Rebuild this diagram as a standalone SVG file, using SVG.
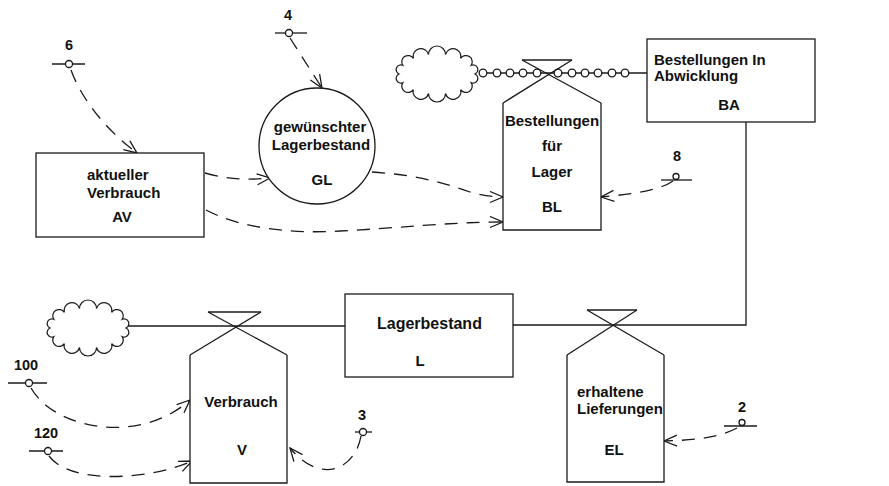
<svg xmlns="http://www.w3.org/2000/svg" width="889" height="486" viewBox="0 0 889 486">
<style>
.ln{fill:none;stroke:#1a1a1a;stroke-width:1.3}
.box{fill:#fff;stroke:#1a1a1a;stroke-width:1.3}
.dash{fill:none;stroke:#1a1a1a;stroke-width:1.3;stroke-dasharray:13 9}
.pt{fill:#fff;stroke:#1a1a1a;stroke-width:1.3}
.cl{fill:#fff;stroke:#1a1a1a;stroke-width:1.2}
text{font-family:"Liberation Sans",Arial,Helvetica,sans-serif;font-weight:bold;font-size:15px;fill:#111}
.c{text-anchor:middle}
.num{font-size:14.5px}
.big{font-size:16px}
</style>
<defs>
<marker id="arr" markerUnits="userSpaceOnUse" markerWidth="15" markerHeight="13" viewBox="0 0 15 13" refX="14" refY="6.5" orient="auto">
<path d="M1,1 L14,6.5 L1,12" fill="none" stroke="#1a1a1a" stroke-width="1.3"/>
</marker>
<path id="cloud" d="M50,328 A1,1 0 0 1 53.8,319.3 A1,1 0 0 1 64.3,312.4 A1,1 0 0 1 79.5,308.5 A1,1 0 0 1 96.5,308.5 A1,1 0 0 1 111.7,312.4 A1,1 0 0 1 122.2,319.3 A1,1 0 0 1 126,328 A1,1 0 0 1 122.2,336.7 A1,1 0 0 1 111.7,343.6 A1,1 0 0 1 96.5,347.5 A1,1 0 0 1 79.5,347.5 A1,1 0 0 1 64.3,343.6 A1,1 0 0 1 53.8,336.7 A1,1 0 0 1 50,328 Z"/>
</defs>
<rect width="889" height="486" fill="#fff"/>

<g id="connectors">
<!-- material flows -->
<line class="ln" x1="479" y1="73" x2="647" y2="73"/>
<g class="pt">
<circle cx="483" cy="73" r="3.8"/><circle cx="497" cy="73" r="3.8"/><circle cx="510" cy="73" r="3.8"/><circle cx="523" cy="73" r="3.8"/><circle cx="537" cy="73" r="3.8"/>
<circle cx="558" cy="73" r="3.8"/><circle cx="572" cy="73" r="3.8"/><circle cx="585" cy="73" r="3.8"/><circle cx="598" cy="73" r="3.8"/><circle cx="612" cy="73" r="3.8"/><circle cx="625" cy="73" r="3.8"/>
</g>
<polyline class="ln" points="746,122 746,325 513,325"/>
<line class="ln" x1="126" y1="326" x2="345" y2="326"/>
<!-- information flows -->
<path class="dash" d="M71,70 C80,95 102,127 137,153" marker-end="url(#arr)"/>
<path class="dash" d="M290,38 L322,88" marker-end="url(#arr)"/>
<path class="dash" d="M205,173 C230,180 250,180 270,178" marker-end="url(#arr)"/>
<path class="dash" d="M206,210 C240,228 290,234 340,231 C400,228 450,222 503,222" marker-end="url(#arr)"/>
<path class="dash" d="M372,172 C420,175 450,185 470,192 C485,196 495,197 503,197" marker-end="url(#arr)"/>
<path class="dash" d="M673,181 C660,190 635,194 601,197" marker-end="url(#arr)"/>
<path class="dash" d="M737,428 C720,437 700,440 664,441" marker-end="url(#arr)"/>
<path class="dash" d="M31,388 C55,430 140,445 190,400" marker-end="url(#arr)"/>
<path class="dash" d="M49,456 C70,485 150,480 192,461" marker-end="url(#arr)"/>
<path class="dash" d="M361,436 C355,470 320,485 290,448" marker-end="url(#arr)"/>
</g>

<g id="cloud-top"><use href="#cloud" class="cl" transform="translate(349,-254)"/></g>
<g id="cloud-bottom"><use href="#cloud" class="cl"/></g>

<g id="AV">
<rect class="box" x="36" y="153" width="168" height="84"/>
<text x="87" y="180">aktueller</text>
<text x="87" y="198">Verbrauch</text>
<text class="c" x="122" y="222">AV</text>
</g>

<g id="GL">
<circle class="box" cx="317" cy="146" r="58"/>
<text class="c" x="320" y="132">gewünschter</text>
<text class="c" x="321" y="150">Lagerbestand</text>
<text class="c" x="322" y="185">GL</text>
</g>

<g id="BL">
<polyline class="box" points="503,103 503,230 601,230 601,103"/>
<polyline class="ln" points="522,60 572,60"/>
<line class="ln" x1="522" y1="60" x2="601" y2="103"/>
<line class="ln" x1="572" y1="60" x2="503" y2="103"/>
<text class="c" x="552" y="126">Bestellungen</text>
<text class="c" x="552" y="151">für</text>
<text class="c" x="552" y="177">Lager</text>
<text class="c" x="552" y="212">BL</text>
</g>

<g id="BA">
<rect class="box" x="647" y="39" width="168" height="83"/>
<text x="654" y="65">Bestellungen In</text>
<text x="654" y="81">Abwicklung</text>
<text class="c" x="729" y="110">BA</text>
</g>

<g id="L">
<rect class="box" x="345" y="294" width="168" height="83"/>
<text class="big" x="377" y="329">Lagerbestand</text>
<text class="c" x="420" y="366">L</text>
</g>

<g id="V">
<polyline class="box" points="190,355 190,483 287,483 287,355"/>
<line class="ln" x1="208" y1="312" x2="261" y2="312"/>
<line class="ln" x1="208" y1="312" x2="287" y2="355"/>
<line class="ln" x1="261" y1="312" x2="190" y2="355"/>
<text class="c" x="241" y="407">Verbrauch</text>
<text class="c" x="242" y="455">V</text>
</g>

<g id="EL">
<polyline class="box" points="567,355 567,482 664,482 664,355"/>
<line class="ln" x1="587" y1="310" x2="637" y2="310"/>
<line class="ln" x1="587" y1="310" x2="664" y2="355"/>
<line class="ln" x1="637" y1="310" x2="567" y2="355"/>
<text x="577" y="397">erhaltene</text>
<text x="577" y="414">Lieferungen</text>
<text class="c" x="614" y="455">EL</text>
</g>

<g id="p6"><line class="ln" x1="52" y1="64" x2="85" y2="64"/><circle class="pt" cx="69" cy="64" r="3.5"/><text class="c num" x="69" y="50">6</text></g>
<g id="p4"><line class="ln" x1="275" y1="33" x2="307" y2="33"/><circle class="pt" cx="289" cy="33" r="3.5"/><text class="c num" x="288" y="20">4</text></g>
<g id="p8"><line class="ln" x1="661" y1="180" x2="692" y2="180"/><circle class="pt" cx="676" cy="176.5" r="3"/><text class="c num" x="677" y="161">8</text></g>
<g id="p2"><line class="ln" x1="724" y1="426" x2="757" y2="426"/><circle class="pt" cx="742" cy="422.5" r="3"/><text class="c num" x="742" y="412">2</text></g>
<g id="p100"><line class="ln" x1="8" y1="383" x2="47" y2="383"/><circle class="pt" cx="29" cy="383" r="3.5"/><text class="c num" x="26" y="370">100</text></g>
<g id="p120"><line class="ln" x1="29" y1="451" x2="63" y2="451"/><circle class="pt" cx="48" cy="451" r="3.5"/><text class="c num" x="46" y="438">120</text></g>
<g id="p3"><line class="ln" x1="355" y1="432" x2="372" y2="432"/><circle class="pt" cx="363" cy="432" r="3.5"/><text class="c num" x="362" y="420">3</text></g>
</svg>
